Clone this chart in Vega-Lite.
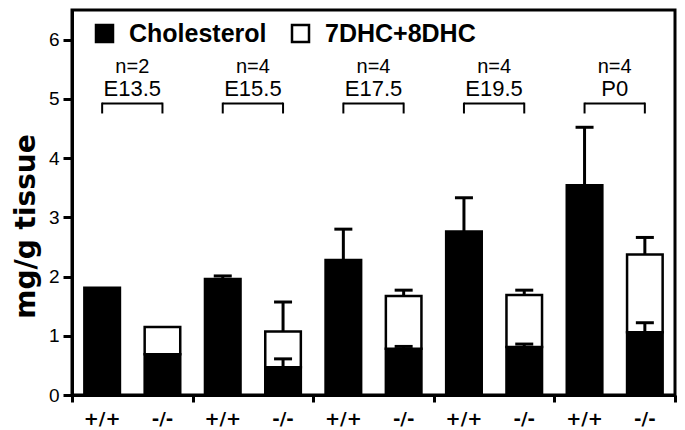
{
  "$schema": "https://vega.github.io/schema/vega-lite/v6.json",
  "width": 603,
  "height": 385,
  "autosize": {"type": "none"},
  "padding": {"left": 72, "top": 10, "right": 10, "bottom": 35},
  "background": "white",
  "config": {
    "view": {"stroke": "black", "strokeWidth": 3},
    "axis": {"grid": false, "domainColor": "black", "domainWidth": 3, "tickColor": "black", "tickWidth": 3, "labelColor": "black", "titleColor": "black"},
    "axisX": {"labels": false, "ticks": true, "tickBand": "extent", "tickSize": 7, "tickWidth": 3, "tickColor": "black"},
    "axisY": {"tickCount": 7, "tickSize": 9, "tickWidth": 3, "tickColor": "black", "labelPadding": 4, "labelFont": "Liberation Sans", "labelFontSize": 19, "titleFont": "DejaVu Sans", "titleFontSize": 28, "titleFontWeight": "bold", "titlePadding": 8, "titleY": 216}
  },
  "datasets": {
    "bars": [
      {"stage": "E13.5", "genotype": "+/+", "component": "Cholesterol", "value": 1.81},
      {"stage": "E13.5", "genotype": "-/-", "component": "Cholesterol", "value": 0.69},
      {"stage": "E13.5", "genotype": "-/-", "component": "7DHC+8DHC", "value": 0.46},
      {"stage": "E15.5", "genotype": "+/+", "component": "Cholesterol", "value": 1.96},
      {"stage": "E15.5", "genotype": "-/-", "component": "Cholesterol", "value": 0.47},
      {"stage": "E15.5", "genotype": "-/-", "component": "7DHC+8DHC", "value": 0.60},
      {"stage": "E17.5", "genotype": "+/+", "component": "Cholesterol", "value": 2.28},
      {"stage": "E17.5", "genotype": "-/-", "component": "Cholesterol", "value": 0.78},
      {"stage": "E17.5", "genotype": "-/-", "component": "7DHC+8DHC", "value": 0.89},
      {"stage": "E19.5", "genotype": "+/+", "component": "Cholesterol", "value": 2.76},
      {"stage": "E19.5", "genotype": "-/-", "component": "Cholesterol", "value": 0.81},
      {"stage": "E19.5", "genotype": "-/-", "component": "7DHC+8DHC", "value": 0.88},
      {"stage": "P0", "genotype": "+/+", "component": "Cholesterol", "value": 3.54},
      {"stage": "P0", "genotype": "-/-", "component": "Cholesterol", "value": 1.06},
      {"stage": "P0", "genotype": "-/-", "component": "7DHC+8DHC", "value": 1.31}
    ],
    "cells": [
      {"stage": "E13.5", "genotype": "+/+"},
      {"stage": "E13.5", "genotype": "-/-"},
      {"stage": "E15.5", "genotype": "+/+"},
      {"stage": "E15.5", "genotype": "-/-"},
      {"stage": "E17.5", "genotype": "+/+"},
      {"stage": "E17.5", "genotype": "-/-"},
      {"stage": "E19.5", "genotype": "+/+"},
      {"stage": "E19.5", "genotype": "-/-"},
      {"stage": "P0", "genotype": "+/+"},
      {"stage": "P0", "genotype": "-/-"}
    ],
    "errors": [
      {"stage": "E15.5", "genotype": "+/+", "mean": 1.96, "upper": 2.01},
      {"stage": "E15.5", "genotype": "-/-", "mean": 0.47, "upper": 0.61},
      {"stage": "E15.5", "genotype": "-/-", "mean": 1.07, "upper": 1.57},
      {"stage": "E17.5", "genotype": "+/+", "mean": 2.28, "upper": 2.80},
      {"stage": "E17.5", "genotype": "-/-", "mean": 0.78, "upper": 0.82},
      {"stage": "E17.5", "genotype": "-/-", "mean": 1.67, "upper": 1.77},
      {"stage": "E19.5", "genotype": "+/+", "mean": 2.76, "upper": 3.33},
      {"stage": "E19.5", "genotype": "-/-", "mean": 0.81, "upper": 0.86},
      {"stage": "E19.5", "genotype": "-/-", "mean": 1.69, "upper": 1.77},
      {"stage": "P0", "genotype": "+/+", "mean": 3.54, "upper": 4.52},
      {"stage": "P0", "genotype": "-/-", "mean": 1.06, "upper": 1.22},
      {"stage": "P0", "genotype": "-/-", "mean": 2.37, "upper": 2.66}
    ],
    "groups": [
      {"stage": "E13.5", "n": "n=2"},
      {"stage": "E15.5", "n": "n=4"},
      {"stage": "E17.5", "n": "n=4"},
      {"stage": "E19.5", "n": "n=4"},
      {"stage": "P0", "n": "n=4"}
    ]
  },
  "layer": [
    {
      "data": {"name": "bars"},
      "mark": {"type": "bar", "stroke": "black", "strokeWidth": 2.5},
      "encoding": {
        "x": {
          "field": "stage", "type": "nominal", "title": null,
          "scale": {"type": "band", "domain": ["E13.5", "E15.5", "E17.5", "E19.5", "P0"], "paddingInner": 0, "paddingOuter": 0}
        },
        "xOffset": {
          "field": "genotype", "type": "nominal",
          "scale": {"domain": ["+/+", "-/-"], "paddingInner": 0.41, "paddingOuter": 0.205}
        },
        "y": {
          "field": "value", "type": "quantitative", "stack": "zero", "title": "mg/g tissue",
          "scale": {"domain": [0, 6.5], "nice": false}
        },
        "color": {
          "field": "component", "type": "nominal",
          "scale": {"domain": ["Cholesterol", "7DHC+8DHC"], "range": ["black", "white"]},
          "legend": {"orient": "none", "legendX": 20, "legendY": 11, "direction": "horizontal", "title": null, "symbolType": "square", "symbolSize": 289, "symbolStrokeColor": "black", "symbolStrokeWidth": 2.5, "symbolOpacity": 1, "labelFont": "Liberation Sans", "labelFontSize": 25, "labelFontWeight": "bold", "labelColor": "black", "labelOffset": 12, "columnPadding": 20, "padding": 0, "labelLimit": 300}
        },
        "order": {"field": "component", "sort": "descending"}
      }
    },
    {
      "data": {"name": "errors"},
      "mark": {"type": "rule", "strokeWidth": 3, "color": "black"},
      "encoding": {
        "x": {"field": "stage", "type": "nominal", "title": null},
        "xOffset": {"field": "genotype", "type": "nominal"},
        "y": {"field": "mean", "type": "quantitative", "title": "mg/g tissue"},
        "y2": {"field": "upper"}
      }
    },
    {
      "data": {"name": "errors"},
      "mark": {"type": "tick", "orient": "horizontal", "size": 18, "thickness": 3, "color": "black", "opacity": 1},
      "encoding": {
        "x": {"field": "stage", "type": "nominal", "title": null},
        "xOffset": {"field": "genotype", "type": "nominal"},
        "y": {"field": "upper", "type": "quantitative", "title": "mg/g tissue"}
      }
    },
    {
      "data": {"name": "cells"},
      "mark": {"type": "text", "font": "DejaVu Sans", "fontWeight": "bold", "fontSize": 18, "baseline": "middle", "align": "center", "color": "black"},
      "encoding": {
        "x": {"field": "stage", "type": "nominal", "title": null},
        "xOffset": {"field": "genotype", "type": "nominal"},
        "y": {"datum": -0.42, "type": "quantitative", "title": "mg/g tissue"},
        "text": {"field": "genotype"}
      }
    },
    {
      "data": {"name": "groups"},
      "mark": {"type": "rule", "strokeWidth": 2, "color": "black"},
      "encoding": {
        "x": {"field": "stage", "type": "nominal", "bandPosition": 0.25, "title": null},
        "x2": {"field": "stage", "bandPosition": 0.75},
        "y": {"datum": 4.92, "type": "quantitative", "title": "mg/g tissue"}
      }
    },
    {
      "data": {"name": "groups"},
      "mark": {"type": "rule", "strokeWidth": 2, "color": "black", "strokeCap": "square"},
      "encoding": {
        "x": {"field": "stage", "type": "nominal", "bandPosition": 0.25, "title": null},
        "y": {"datum": 4.77, "type": "quantitative", "title": "mg/g tissue"},
        "y2": {"datum": 4.92}
      }
    },
    {
      "data": {"name": "groups"},
      "mark": {"type": "rule", "strokeWidth": 2, "color": "black", "strokeCap": "square"},
      "encoding": {
        "x": {"field": "stage", "type": "nominal", "bandPosition": 0.75, "title": null},
        "y": {"datum": 4.77, "type": "quantitative", "title": "mg/g tissue"},
        "y2": {"datum": 4.92}
      }
    },
    {
      "data": {"name": "groups"},
      "mark": {"type": "text", "font": "Liberation Sans", "fontSize": 20, "baseline": "alphabetic", "align": "center", "color": "black"},
      "encoding": {
        "x": {"field": "stage", "type": "nominal", "title": null},
        "y": {"datum": 5.44, "type": "quantitative", "title": "mg/g tissue"},
        "text": {"field": "n"}
      }
    },
    {
      "data": {"name": "groups"},
      "mark": {"type": "text", "font": "Liberation Sans", "fontSize": 22, "baseline": "alphabetic", "align": "center", "color": "black"},
      "encoding": {
        "x": {"field": "stage", "type": "nominal", "title": null},
        "y": {"datum": 5.04, "type": "quantitative", "title": "mg/g tissue"},
        "text": {"field": "stage"}
      }
    }
  ]
}
